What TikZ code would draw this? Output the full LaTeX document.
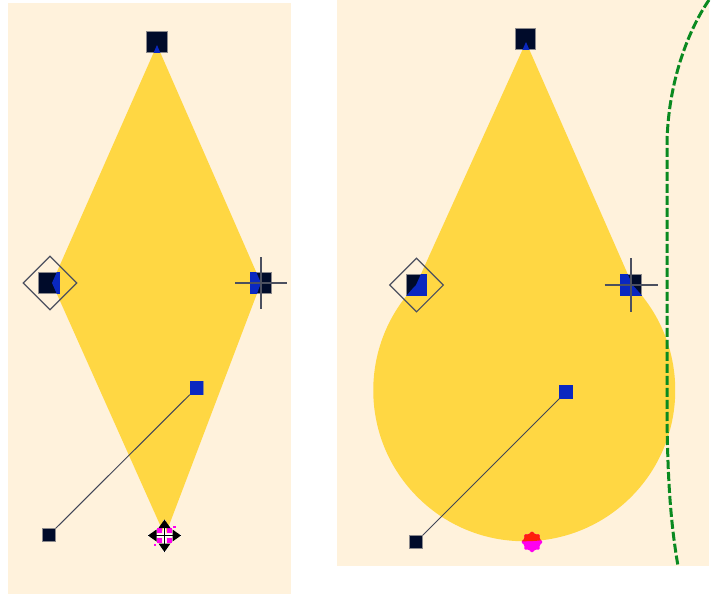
\documentclass[tikz,border=0pt]{standalone}
\usepackage{xcolor}
\usetikzlibrary{shapes.geometric,positioning,calc}
\definecolor{paper}{HTML}{FFF2DC}
\definecolor{gold}{HTML}{FFD743}
\definecolor{navy}{HTML}{000B2A}
\definecolor{handleblue}{HTML}{0A28C0}
\definecolor{pathgreen}{HTML}{0A8A20}
\definecolor{cuemagenta}{HTML}{FF00F0}

\begin{document}
\begin{tikzpicture}[x=1pt,y=-1pt,
        handle/.style={rectangle, draw=navy!45!paper, line width=0.6pt, fill=navy, inner sep=0pt, minimum size=20.5pt},
        tiphandle/.style={rectangle, draw=navy!45!paper, line width=0.5pt, fill=navy, inner sep=0pt, minimum size=13pt},
        bluefill/.style={fill=handleblue},
        stalk/.style={draw=navy!75!paper, line width=1pt},
        hair/.style={draw=navy!70!paper, line width=1.6pt},
        selbox/.style={diamond, draw=navy!70!paper, line width=1.1pt, inner sep=0pt, minimum size=54pt},
        cuebar/.style={rectangle, fill=cuemagenta, inner sep=0pt, minimum size=5.5pt},
        cuedot/.style={rectangle, fill=cuemagenta, inner sep=0pt, minimum size=2.5pt},
        cuestar/.style={star, star points=8, star point ratio=1.35, rounded corners=1.2pt, inner sep=0pt, minimum size=22pt}
        ]
    \useasboundingbox (0,0) rectangle (715,594);

        % Panels
        \fill[paper] (8,3) rectangle (291,594);
        \fill[paper] (337,0) rectangle (709,566);

        % Nodes
        \coordinate (atop) at (157,45);
        \coordinate (aleft) at (52,283);
        \coordinate (aright) at (261,283);
        \coordinate (abottom) at (165,536);
        \coordinate (btop) at (526,42);
        \coordinate (bleft) at (416.5,285);
        \coordinate (bright) at (631,285);
        \coordinate (barc) at (632.5,285);
        \coordinate (hleft) at (50,283);

        % Shapes
        \fill[gold] (atop) -- (aright) -- (abottom) -- (aleft) -- cycle;
        \fill[gold] (btop) -- (barc) arc[start angle=-44.2, end angle=224.2, radius=151] -- cycle;

        % Outline
        \coordinate (gstart) at (709,0);
        \coordinate (gend) at (678,566);
        \draw[pathgreen, line width=3pt, dash pattern=on 9pt off 3pt]
            (gstart) .. controls (685,35) and (667,90) .. (667,147)
            -- (667,400) .. controls (667,470) and (670,520) .. (gend);

        % Handles
        \node[handle] (h1) at (157,42) {};
        \node[handle] (h2) at (49,283) {};
        \node[handle] (h3) at (aright) {};
        \node[handle] (h4) at (525.5,39) {};
        \node[handle] (h5) at (bleft) {};
        \node[handle] (h6) at (bright) {};
        \node[tiphandle] (t1) at (196.5,388) {};
        \node[tiphandle] (t2) at (49,535) {};
        \node[tiphandle] (t3) at (566,392) {};
        \node[tiphandle] (t4) at (416,542) {};

        % Blue where the handle is over the shape
        \begin{scope}
            \clip (atop) -- (aright) -- (abottom) -- (aleft) -- cycle;
            \fill[bluefill] (h1.north west) rectangle (h1.south east);
            \fill[bluefill] (h2.north west) rectangle (h2.south east);
            \fill[bluefill] (h3.north west) rectangle (h3.south east);
            \fill[bluefill] (t1.north west) rectangle (t1.south east);
        \end{scope}
        \begin{scope}
            \clip (btop) -- (barc) arc[start angle=-44.2, end angle=224.2, radius=151] -- cycle;
            \fill[bluefill] (h4.north west) rectangle (h4.south east);
            \fill[bluefill] (h5.north west) rectangle (h5.south east);
            \fill[bluefill] (h6.north west) rectangle (h6.south east);
            \fill[bluefill] (t3.north west) rectangle (t3.south east);
        \end{scope}

        % Lines
        \draw[stalk] (t1) -- (t2);
        \draw[stalk] (t3) -- (t4);

        % Selection marks
        \node[selbox] (s1) at (hleft) {};
        \node[selbox] (s2) at (bleft) {};
        \coordinate (c1w) at (235,283);
        \coordinate (c1e) at (287,283);
        \coordinate (c1n) at (261,257);
        \coordinate (c1s) at (261,309);
        \coordinate (c2w) at (604.5,285);
        \coordinate (c2e) at (658,285);
        \coordinate (c2n) at (631,258);
        \coordinate (c2s) at (631,312);
        \draw[hair] (c1w) -- (c1e);
        \draw[hair] (c1n) -- (c1s);
        \draw[hair] (c2w) -- (c2e);
        \draw[hair] (c2n) -- (c2s);

        % Cue on the lower tip
        \node[cuestar, fill=cuemagenta] (cue) at (532,542) {};
        \begin{scope}
            \clip (btop) -- (barc) arc[start angle=-44.2, end angle=224.2, radius=151] -- cycle;
            \node[cuestar, fill=red!85!gold] (cuetop) at (532,542) {};
        \end{scope}

        % Move cursor
        \node[cuebar] (m1) at (159.5,530.5) {};
        \node[cuebar] (m2) at (169.5,530.5) {};
        \node[cuebar] (m3) at (159.5,540.5) {};
        \node[cuebar] (m4) at (169.5,540.5) {};
        \node[cuedot] (m5) at (174.5,527) {};
        \node[cuedot] (m6) at (155,545) {};
        \coordinate (mw) at (148,535.5);
        \coordinate (me) at (181,535.5);
        \coordinate (mn) at (164.5,519.5);
        \coordinate (ms) at (164.5,552);
        \draw[white, line width=2.6pt] (mw) -- (me);
        \draw[white, line width=2.6pt] (mn) -- (ms);
        \draw[black, line width=1.4pt] (mw) -- (me);
        \draw[black, line width=1.4pt] (mn) -- (ms);
        \fill[black] (mw) -- ++(8.5,-6) -- ++(0,12) -- cycle;
        \fill[black] (me) -- ++(-8.5,-6) -- ++(0,12) -- cycle;
        \fill[black] (mn) -- ++(-6,8.5) -- ++(12,0) -- cycle;
        \fill[black] (ms) -- ++(-6,-8.5) -- ++(12,0) -- cycle;

    \end{tikzpicture}
\end{document}
